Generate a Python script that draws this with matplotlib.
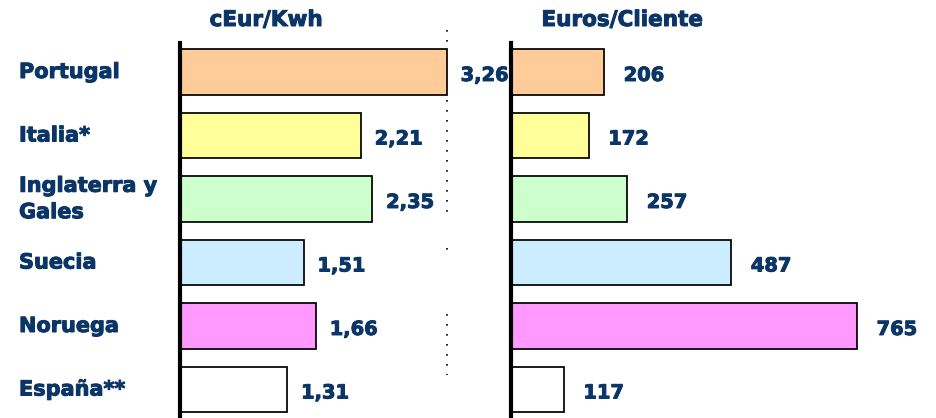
"""Coste por kWh y por cliente: barras horizontales en dos paneles."""

import matplotlib

matplotlib.use("Agg")
import matplotlib.patheffects as pe
import matplotlib.pyplot as plt
import matplotlib.transforms as mtransforms
import numpy as np

CATEGORIES = ["Portugal", "Italia*", "Inglaterra y\nGales", "Suecia", "Noruega", "España**"]
CENT_PER_KWH = [3.26, 2.21, 2.35, 1.51, 1.66, 1.31]
EUROS_PER_CLIENT = [206, 172, 257, 487, 765, 117]
LABELS_KWH = ["3,26", "2,21", "2,35", "1,51", "1,66", "1,31"]
LABELS_CLIENT = ["206", "172", "257", "487", "765", "117"]
TITLES = ["cEur/Kwh", "Euros/Cliente"]

COLORS = ["#FFCC99", "#FFFF99", "#CCFFCC", "#CCECFF", "#FF99FF", "#FFFFFF"]
NAVY = "#0a3566"

W, H = 936, 418
FIRST_ROW_PX = 72.0
ROW_STEP_PX = 63.5
AXES_TOP_PX = 43.0

plt.rcParams["font.family"] = ["DejaVu Sans"]
plt.rcParams["font.weight"] = "bold"

# the slide font is heavier than DejaVu Bold, thicken it a bit
HEAVY = [pe.withStroke(linewidth=0.7, foreground=NAVY)]

fig = plt.figure(figsize=(W / 100, H / 100), dpi=100)


def make_axes(left_px, right_px, xmax):
    ax = fig.add_axes(
        (left_px / W, 0.0, (right_px - left_px) / W, (H - AXES_TOP_PX) / H)
    )
    ax.set_xlim(0, xmax)
    ax.set_ylim((H - FIRST_ROW_PX) / ROW_STEP_PX, (AXES_TOP_PX - FIRST_ROW_PX) / ROW_STEP_PX)
    for side in ("top", "right", "bottom"):
        ax.spines[side].set_visible(False)
    ax.spines["left"].set_linewidth(3.0)
    ax.spines["left"].set_color("black")
    ax.set_xticks([])
    ax.set_yticks([])
    ax.patch.set_alpha(0)
    return ax


y = np.arange(len(CATEGORIES))
ax_left = make_axes(180, 450, 3.3)
ax_right = make_axes(511, 873, 800)

for ax, values, labels, dx in (
    (ax_left, CENT_PER_KWH, LABELS_KWH, 10),
    (ax_right, EUROS_PER_CLIENT, LABELS_CLIENT, 14),
):
    ax.barh(y, values, height=0.71, color=COLORS, edgecolor="black", linewidth=1.25, zorder=2)
    for yi, v, lab in zip(y, values, labels):
        ax.annotate(
            lab,
            (v, yi),
            xytext=(dx, -2.5),
            textcoords="offset points",
            ha="left",
            va="center",
            fontsize=14,
            fontweight="bold",
            color=NAVY,
            path_effects=HEAVY,
        )

# dotted reference line (broken, as in the original slide)
for top_px, bottom_px in ((30, 46), (100, 215), (248, 253), (314, 375)):
    ax_left.plot(
        [3.26, 3.26],
        [(top_px - FIRST_ROW_PX) / ROW_STEP_PX, (bottom_px - FIRST_ROW_PX) / ROW_STEP_PX],
        color="black",
        linestyle=(0, (1, 5)),
        linewidth=1.2,
        clip_on=False,
        zorder=1,
    )

trans = mtransforms.blended_transform_factory(fig.transFigure, ax_left.transData)
for yi, name in zip(y, CATEGORIES):
    ax_left.text(
        19 / W,
        yi,
        name,
        transform=trans,
        ha="left",
        va="center",
        fontsize=15,
        fontweight="bold",
        color=NAVY,
        linespacing=1.4,
        clip_on=False,
        path_effects=HEAVY,
    )

for x_px, title in zip((266, 622), TITLES):
    fig.text(x_px / W, 1 - 20 / H, title, ha="center", va="center",
             fontsize=15.5, fontweight="bold", color=NAVY, path_effects=HEAVY)

fig.savefig("out.png", dpi=100, facecolor="white")
